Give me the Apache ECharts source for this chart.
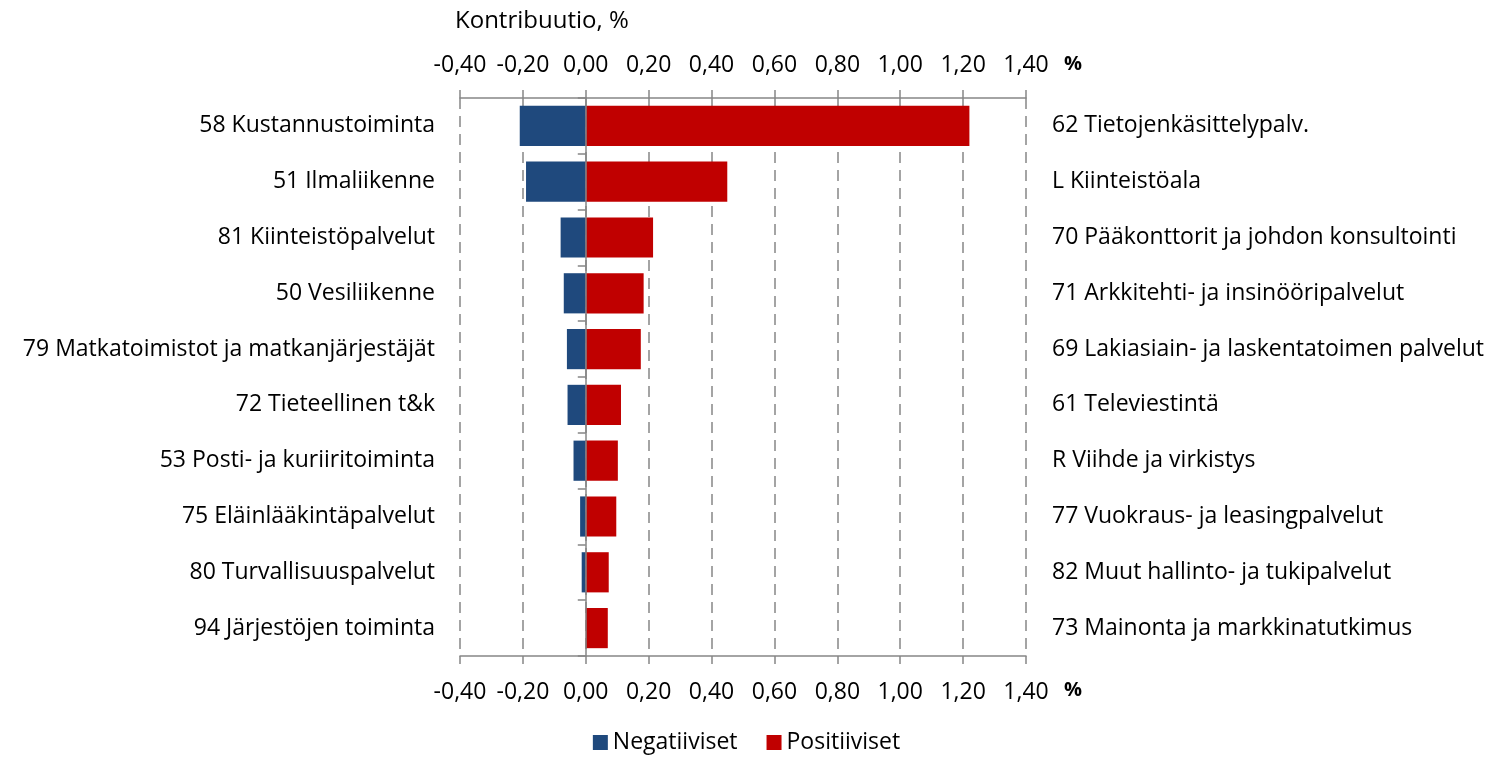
<!DOCTYPE html>
<html>
<head>
<meta charset="utf-8">
<script src="https://cdn.jsdelivr.net/npm/echarts@6/dist/echarts.min.js"></script>
<style>
  html, body { margin: 0; padding: 0; background: #fff; }
  #chart { width: 1493px; height: 759px; }
</style>
</head>
<body>
<div id="chart"></div>
<script>
// toimialat, vasen = negatiiviset, oikea = positiiviset
const leftCategories = [
  '58 Kustannustoiminta',
  '51 Ilmaliikenne',
  '81 Kiinteistöpalvelut',
  '50 Vesiliikenne',
  '79 Matkatoimistot ja matkanjärjestäjät',
  '72 Tieteellinen t&k',
  '53 Posti- ja kuriiritoiminta',
  '75 Eläinlääkintäpalvelut',
  '80 Turvallisuuspalvelut',
  '94 Järjestöjen toiminta'
];
const rightCategories = [
  '62 Tietojenkäsittelypalv.',
  'L Kiinteistöala',
  '70 Pääkonttorit ja johdon konsultointi',
  '71 Arkkitehti- ja insinööripalvelut',
  '69 Lakiasiain- ja laskentatoimen palvelut',
  '61 Televiestintä',
  'R Viihde ja virkistys',
  '77 Vuokraus- ja leasingpalvelut',
  '82 Muut hallinto- ja tukipalvelut',
  '73 Mainonta ja markkinatutkimus'
];
const negativeValues = [-0.21, -0.19, -0.08, -0.07, -0.06, -0.058, -0.039, -0.018, -0.013, 0];
const positiveValues = [1.22, 0.45, 0.214, 0.184, 0.175, 0.112, 0.102, 0.097, 0.073, 0.07];

const xMin = -0.4;
const xMax = 1.4;
const xStep = 0.2;

const chart = echarts.init(document.getElementById('chart'));

const labelFont = '"Open Sans", "Noto Sans", sans-serif';
const fontSize = 23;
const gray = '#868686';

function fmt(v) {
  return v.toFixed(2).replace('.', ',');
}

function valueAxis(pos) {
  const top = pos === 'top';
  return {
    type: 'value',
    position: pos,
    min: xMin,
    max: xMax,
    interval: xStep,
    name: '%',
    nameLocation: 'end',
    nameGap: 38,
    nameTextStyle: {
      fontFamily: labelFont,
      fontSize: 20,
      fontWeight: 'bold',
      color: '#000',
      verticalAlign: top ? 'bottom' : 'top',
      padding: top ? [0, 0, 24, 0] : [24, 0, 0, 0]
    },
    axisLine: { show: true, onZero: false, lineStyle: { color: gray, width: 1.5 } },
    axisTick: { show: true, length: 8, lineStyle: { color: gray, width: 1.5 } },
    axisLabel: {
      fontFamily: labelFont,
      fontSize: fontSize,
      color: '#000',
      margin: top ? 21 : 25,
      formatter: fmt
    },
    splitLine: {
      show: !top,
      lineStyle: { color: gray, width: 1.5, type: [11, 7] }
    }
  };
}

const option = {
  animation: false,
  title: {
    text: 'Kontribuutio, %',
    left: 450,
    top: 4,
    textStyle: {
      fontFamily: labelFont,
      fontSize: 24,
      fontWeight: 'normal',
      color: '#000'
    }
  },
  legend: {
    top: 726,
    left: 'center',
    itemWidth: 15,
    itemHeight: 15,
    itemGap: 29,
    icon: 'rect',
    textStyle: { fontFamily: labelFont, fontSize: fontSize, color: '#000' },
    data: ['Negatiiviset', 'Positiiviset']
  },
  grid: {
    left: 460,
    right: 467,
    top: 98,
    bottom: 103,
    containLabel: false
  },
  xAxis: [
    valueAxis('bottom'),
    valueAxis('top')
  ],
  yAxis: [
    {
      type: 'category',
      position: 'left',
      inverse: true,
      data: leftCategories,
      axisLine: { show: false, onZero: false },
      axisTick: { show: false },
      axisLabel: { fontFamily: labelFont, fontSize: fontSize, color: '#000', margin: 25 }
    },
    {
      type: 'category',
      position: 'right',
      inverse: true,
      data: rightCategories,
      axisLine: { show: false, onZero: false },
      axisTick: { show: false },
      axisLabel: { fontFamily: labelFont, fontSize: fontSize, color: '#000', margin: 26 }
    },
    {
      // nollaviiva
      type: 'category',
      position: 'left',
      inverse: true,
      data: leftCategories,
      z: 5,
      axisLine: { show: true, onZero: true, onZeroAxisIndex: 0, lineStyle: { color: gray, width: 1.5 } },
      axisTick: { show: true, length: 8, lineStyle: { color: gray, width: 1.5 } },
      axisLabel: { show: false }
    }
  ],
  series: [
    {
      name: 'Negatiiviset',
      type: 'bar',
      xAxisIndex: 0,
      yAxisIndex: 0,
      barCategoryGap: '28%',
      barGap: '-100%',
      itemStyle: { color: '#1F497D' },
      data: negativeValues
    },
    {
      name: 'Positiiviset',
      type: 'bar',
      xAxisIndex: 0,
      yAxisIndex: 0,
      barCategoryGap: '28%',
      barGap: '-100%',
      itemStyle: { color: '#C00000' },
      data: positiveValues
    }
  ]
};

chart.setOption(option);
</script>
</body>
</html>
